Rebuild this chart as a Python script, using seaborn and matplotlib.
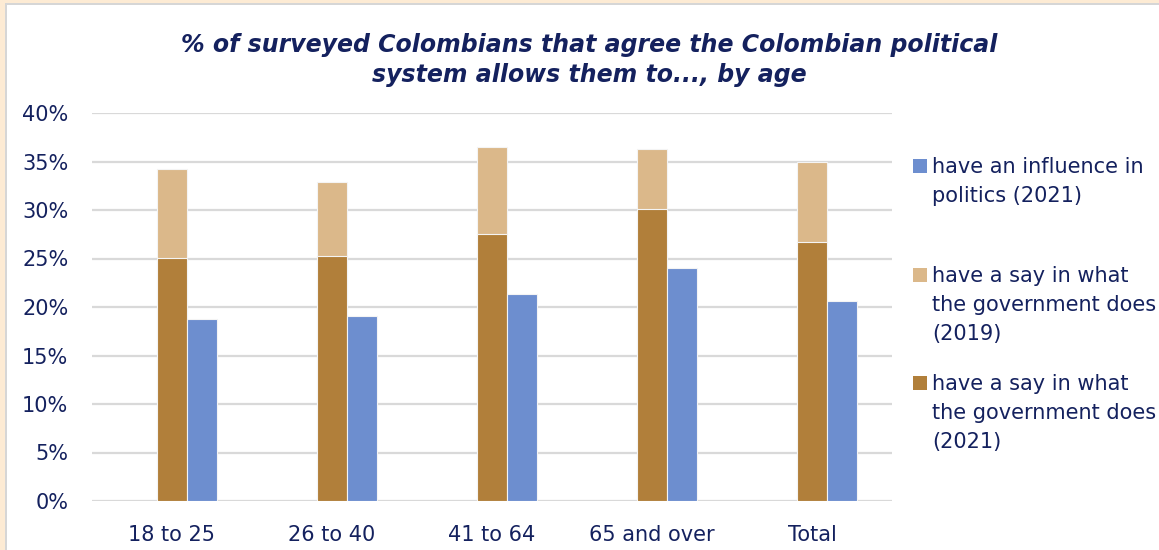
import matplotlib
matplotlib.use("Agg")
import matplotlib.pyplot as plt
from matplotlib.patches import Rectangle
import pandas as pd
import seaborn as sns

# Survey results (share of respondents), by age group
groups = ["18 to 25", "26 to 40", "41 to 64", "65 and over", "Total"]
say_2019 = [0.342, 0.329, 0.365, 0.363, 0.349]
say_2021 = [0.251, 0.253, 0.275, 0.301, 0.267]
influence_2021 = [0.188, 0.191, 0.213, 0.240, 0.206]
y_ticks = [0.0, 0.05, 0.10, 0.15, 0.20, 0.25, 0.30, 0.35, 0.40]
y_tick_labels = ["0%", "5%", "10%", "15%", "20%", "25%", "30%", "35%", "40%"]

label_infl = "have an influence in\npolitics (2021)"
label_2019 = "have a say in what\nthe government does\n(2019)"
label_2021 = "have a say in what\nthe government does\n(2021)"
title = "% of surveyed Colombians that agree the Colombian political\nsystem allows them to..., by age"

NAVY = "#14215E"
GOLD_LIGHT = "#DBB88A"
GOLD_DARK = "#B17F3A"
BLUE = "#6D8ECF"
GRID = "#D9D9D9"

sns.set_theme(style="white")
plt.rcParams["font.family"] = ["DejaVu Sans"]

fig = plt.figure(figsize=(11.59, 5.5), dpi=100)
fig.patch.set_facecolor("#FDEBD4")
# white card with grey rule on the top and left edges (kept behind the axes)
fig.patches.append(Rectangle((7 / 1159, 0), 1 - 7 / 1159, 1 - 5 / 550,
                             transform=fig.transFigure, facecolor="white",
                             edgecolor="none", zorder=-2))
fig.patches.append(Rectangle((5 / 1159, 0), 2 / 1159, 1 - 3 / 550,
                             transform=fig.transFigure, facecolor="#D6D6D6",
                             edgecolor="none", zorder=-2))
fig.patches.append(Rectangle((5 / 1159, 1 - 5 / 550), 1 - 5 / 1159, 2 / 550,
                             transform=fig.transFigure, facecolor="#D6D6D6",
                             edgecolor="none", zorder=-2))

ax = fig.add_axes([92 / 1159, 1 - 501 / 550, 800 / 1159, 388 / 550])
ax.set_facecolor("none")

slots = ["slot0", "say", "influence"]

back = pd.DataFrame({"group": groups, "series": "say", "value": say_2019})
front = pd.concat([
    pd.DataFrame({"group": groups, "series": "say", "value": say_2021}),
    pd.DataFrame({"group": groups, "series": "influence", "value": influence_2021}),
], ignore_index=True)

bar_kw = dict(x="group", y="value", hue="series", hue_order=slots, order=groups,
              dodge=True, width=0.5625, errorbar=None, legend=False, saturation=1,
              edgecolor="#F4F4F4", linewidth=0.8, ax=ax)

sns.barplot(data=back, palette={"slot0": "white", "say": GOLD_LIGHT, "influence": BLUE},
            **bar_kw)
sns.barplot(data=front, palette={"slot0": "white", "say": GOLD_DARK, "influence": BLUE},
            **bar_kw)

ax.set_ylim(0, 0.40)
ax.set_xlim(-0.5, len(groups) - 0.5)
ax.set_yticks(y_ticks)
ax.set_yticklabels(y_tick_labels)
ax.set_xlabel("")
ax.set_ylabel("")
ax.tick_params(axis="y", length=0, pad=17, labelsize=15, labelcolor=NAVY)
ax.tick_params(axis="x", length=0, pad=17, labelsize=15, labelcolor=NAVY)
for s in ax.spines.values():
    s.set_visible(False)
ax.yaxis.grid(True, color=GRID, linewidth=1.6)
ax.set_axisbelow(True)

fig.text(589 / 1159, 1 - 60 / 550, title, ha="center", va="center",
         multialignment="center", fontsize=17, fontweight="bold",
         fontstyle="italic", color=NAVY, linespacing=1.3)

# legend, entries stacked on the right
legend_items = [(BLUE, label_infl, 166), (GOLD_LIGHT, label_2019, 275),
                (GOLD_DARK, label_2021, 383)]
for color, text, ycen in legend_items:
    fig.patches.append(Rectangle((913 / 1159, 1 - (ycen + 7) / 550), 14 / 1159, 14 / 550,
                                 transform=fig.transFigure, facecolor=color,
                                 edgecolor="none", zorder=3))
    fig.text(932 / 1159, 1 - (ycen - 9) / 550, text, ha="left", va="top",
             fontsize=15, color=NAVY, linespacing=1.55)

fig.savefig("out.png", dpi=100, facecolor=fig.get_facecolor())
